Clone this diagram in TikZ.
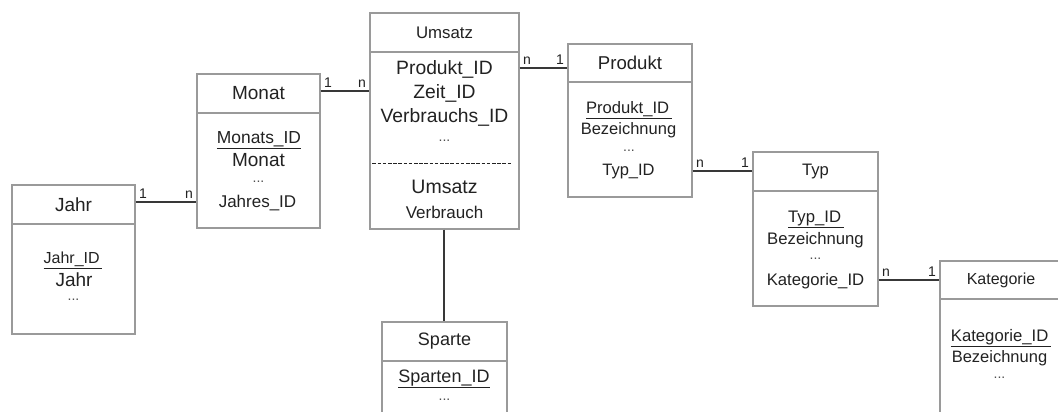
\documentclass[tikz,border=0pt]{standalone}
\usepackage{fontspec}
\setmainfont{Liberation Sans}
\usetikzlibrary{calc}
\definecolor{boxgray}{HTML}{9A9A9A}
\definecolor{linegray}{HTML}{383838}
\definecolor{txt}{HTML}{222222}
\newcommand{\fsz}[1]{\fontsize{#1}{#1}\selectfont}
\begin{document}
\begin{tikzpicture}[x=1pt,y=-1pt,
  ent/.style={draw=boxgray, line width=1.2pt, fill=white, inner sep=0pt, rectangle},
  hd/.style={ent, text=txt},
  fld/.style={text=txt, inner sep=0pt},
  dots/.style={text=txt!80, inner sep=0pt, font=\fsz{14}},
  conn/.style={draw=linegray, line width=2pt},
  card/.style={text=txt, font=\fsz{14}, inner sep=2.5pt}
]
\useasboundingbox (0,0) rectangle (1058,412);
\clip (0,0) rectangle (1058,412);
\fill[white] (0,0) rectangle (1058,412);

% ---------- Jahr
\node[ent, minimum width=123, minimum height=149] (jahr) at (73.5,259.5) {};
\node[hd, minimum width=123, minimum height=39, font=\fsz{19}] (jahrhead) at (73.5,204.5) {Jahr};
\node[fld, font=\fsz{16}] (jahr1) at (73,260) {\underline{Jahr\_ID\,}};
\node[fld, font=\fsz{19}] (jahr2) at (74,280) {Jahr};
\node[dots] (jahr3) at (73.5,300) {...};

% ---------- Monat
\node[ent, minimum width=123, minimum height=154] (monat) at (258.5,151) {};
\node[hd, minimum width=123, minimum height=39, font=\fsz{19}] (monathead) at (258.5,93.5) {Monat};
\node[fld, font=\fsz{17.4}] (monat1) at (259,140) {\underline{Monats\_ID}};
\node[fld, font=\fsz{19}] (monat2) at (258.5,160) {Monat};
\node[dots] (monat3) at (258.5,182) {...};
\node[fld, font=\fsz{17}] (monat4) at (257.5,203) {Jahres\_ID};

% ---------- Umsatz
\node[ent, minimum width=149, minimum height=216] (umsatz) at (444.5,121) {};
\node[hd, minimum width=149, minimum height=39, font=\fsz{16.8}] (umsatzhead) at (444.5,32.5) {Umsatz};
\node[fld, font=\fsz{19.3}] (ums1) at (444.5,69) {Produkt\_ID};
\node[fld, font=\fsz{19.3}] (ums2) at (444.5,93) {Zeit\_ID};
\node[fld, font=\fsz{19.3}] (ums3) at (444.5,117) {Verbrauchs\_ID};
\node[dots] (ums4) at (444.5,141) {...};
\draw[txt, line width=1pt, dash pattern=on 3.6pt off 1.6pt]
  ($(umsatz.north west)+(3,151)$) -- ($(umsatz.north east)+(-9,151)$);
\node[fld, font=\fsz{19.5}] (ums5) at (444.5,187) {Umsatz};
\node[fld, font=\fsz{17}] (ums6) at (444.5,212) {Verbrauch};

% ---------- Sparte
\node[ent, minimum width=125, minimum height=110] (sparte) at (444.5,377) {};
\node[hd, minimum width=125, minimum height=39, font=\fsz{18}] (spartehead) at (444.5,341.5) {Sparte};
\node[fld, font=\fsz{18}] (sp1) at (444,379) {\underline{Sparten\_ID}};
\node[dots] (sp2) at (444.5,400) {...};

% ---------- Produkt
\node[ent, minimum width=124, minimum height=153] (produkt) at (630,120.5) {};
\node[hd, minimum width=124, minimum height=38, font=\fsz{18.6}] (produkthead) at (630,63) {Produkt};
\node[fld, font=\fsz{16.6}] (pr1) at (629,110) {\underline{Produkt\_ID\,}};
\node[fld, font=\fsz{16.5}] (pr2) at (628.5,130) {Bezeichnung};
\node[dots] (pr3) at (629,151) {...};
\node[fld, font=\fsz{16.5}] (pr4) at (628.5,172) {Typ\_ID};

% ---------- Typ
\node[ent, minimum width=125, minimum height=154] (typ) at (815.5,229) {};
\node[hd, minimum width=125, minimum height=39, font=\fsz{16.6}] (typhead) at (815.5,171.5) {Typ};
\node[fld, font=\fsz{16.7}] (ty1) at (816,219) {\underline{Typ\_ID\,}};
\node[fld, font=\fsz{16.7}] (ty2) at (815.5,240) {Bezeichnung};
\node[dots] (ty3) at (815.5,259) {...};
\node[fld, font=\fsz{16.7}] (ty4) at (815.5,281) {Kategorie\_ID};

% ---------- Kategorie
\node[ent, minimum width=122, minimum height=160] (kat) at (1001,341) {};
\node[hd, minimum width=122, minimum height=38, font=\fsz{16}] (kathead) at (1001,280) {Kategorie};
\node[fld, font=\fsz{16.7}] (ka1) at (1001,338) {\underline{Kategorie\_ID\,}};
\node[fld, font=\fsz{16.5}] (ka2) at (999.5,358) {Bezeichnung};
\node[dots] (ka3) at (999.5,378) {...};

% ---------- connectors
\coordinate (cj) at ($(jahrhead.east)+(0,-2.5)$);
\draw[conn] (cj) -- (cj -| monat.west)
  node[card, at start, anchor=south west] {1}
  node[card, at end, anchor=south east] {n};
\coordinate (cm) at ($(monathead.east)+(0,-2.5)$);
\draw[conn] (cm) -- (cm -| umsatz.west)
  node[card, at start, anchor=south west] {1}
  node[card, at end, anchor=south east] {n};
\coordinate (cp) at ($(produkthead.west)+(0,5)$);
\draw[conn] (cp -| umsatz.east) -- (cp)
  node[card, at start, anchor=south west] {n}
  node[card, at end, anchor=south east] {1};
\coordinate (ct) at ($(typhead.west)+(0,-0.5)$);
\draw[conn] (ct -| produkt.east) -- (ct)
  node[card, at start, anchor=south west] {n}
  node[card, at end, anchor=south east] {1};
\draw[conn] (kathead.west -| typ.east) -- (kathead.west)
  node[card, at start, anchor=south west] {n}
  node[card, at end, anchor=south east] {1};
\coordinate (cs) at ($(umsatz.south)+(-0.5,0)$);
\draw[conn] (cs) -- (cs |- spartehead.north);
\end{tikzpicture}
\end{document}
